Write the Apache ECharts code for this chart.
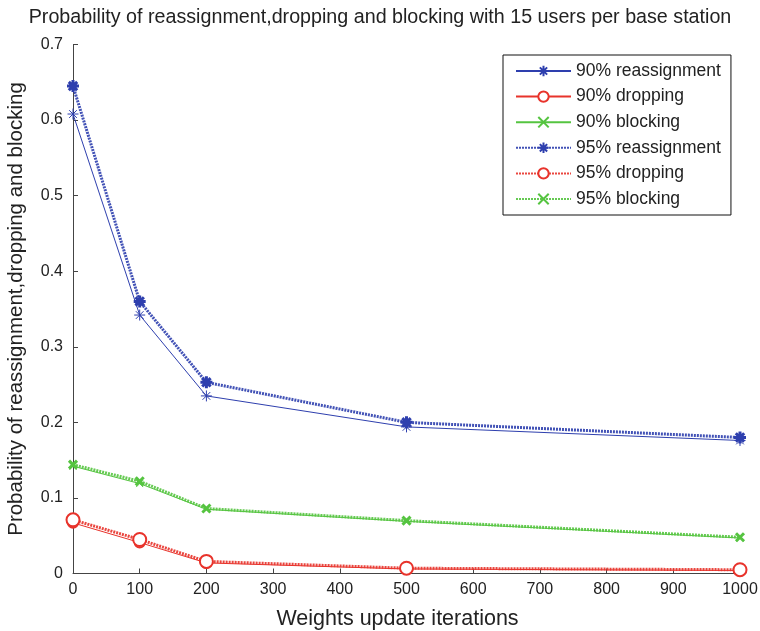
<!DOCTYPE html>
<html><head><meta charset="utf-8">
<script src="https://cdn.jsdelivr.net/npm/echarts@6/dist/echarts.min.js"></script>
<style>html,body{margin:0;padding:0;background:#fff}#c{width:760px;height:631px}</style>
</head><body><div id="c"></div>
<script>
const iterations = [0, 100, 200, 500, 1000];
const reassign90 = [0.608, 0.342, 0.235, 0.194, 0.176];
const dropping90 = [0.067, 0.041, 0.014, 0.006, 0.004];
const blocking90 = [0.142, 0.119, 0.085, 0.069, 0.047];
const reassign95 = [0.645, 0.360, 0.253, 0.200, 0.180];
const dropping95 = [0.071, 0.045, 0.016, 0.007, 0.005];
const blocking95 = [0.144, 0.122, 0.086, 0.070, 0.048];
const seriesNames = ['90% reassignment','90% dropping','90% blocking','95% reassignment','95% dropping','95% blocking'];

const BLUE = '#2e3fae', RED = '#e8332b', GREEN = '#55c440';
const STAR = 'path://M0,-10L0,10M-10,0L10,0M-7,-7L7,7M-7,7L7,-7';
const CROSS = 'path://M-7,-7L7,7M-7,7L7,-7';
const FONT = '"Liberation Sans", Arial, sans-serif';

function pairs(vals){ return iterations.map((x,i)=>[x, vals[i]]); }

function mk(name, vals, color, symbol, size, dotted, bw){
  return {
    name, type:'line', data:pairs(vals), symbol, symbolSize:size,
    lineStyle:{color, width: dotted?3:1, type: dotted?[2,1]:'solid', opacity: dotted?0.9:1},
    itemStyle:{color, borderColor: color, borderWidth: bw},
    emphasis:{disabled:true}, animation:false, z: dotted?3:2
  };
}

const chart = echarts.init(document.getElementById('c'), null, {renderer:'canvas'});
chart.setOption({
  animation:false,
  backgroundColor:'#fff',
  title:{text:'Probability of reassignment,dropping and blocking with 15 users per base station',
    left:'center', top:3, textStyle:{fontFamily:FONT, fontSize:19.7, fontWeight:'normal', color:'#222'}},
  grid:{left:73, right:20, top:44.5, bottom:57.5, containLabel:false, outerBoundsMode:'none'},
  legend:{orient:'vertical', left:503, top:55, padding:[7,10,7,12], itemGap:7.6,
    itemWidth:55, itemHeight:13, borderColor:'#111', borderWidth:1, backgroundColor:'#fff',
    textStyle:{fontFamily:FONT, fontSize:17.5, color:'#222'}, data:seriesNames},
  xAxis:{type:'value', min:0, max:1000, interval:100,
    name:'Weights update iterations', nameLocation:'middle', nameGap:35,
    nameTextStyle:{fontFamily:FONT, fontSize:21.5, color:'#222', padding:[0,18,0,0]},
    axisLine:{lineStyle:{color:'#444'}}, axisTick:{inside:true, length:5, lineStyle:{color:'#444'}},
    axisLabel:{fontFamily:FONT, fontSize:16, color:'#222', margin:8, formatter:v=>String(v)}, splitLine:{show:false}},
  yAxis:{type:'value', min:0, max:0.7, interval:0.1,
    name:'Probability of reassignment,dropping and blocking', nameLocation:'middle', nameGap:46,
    nameTextStyle:{fontFamily:FONT, fontSize:20.5, color:'#222'},
    axisLine:{show:true, lineStyle:{color:'#444'}}, axisTick:{show:true, inside:true, length:5, lineStyle:{color:'#444'}},
    axisLabel:{fontFamily:FONT, fontSize:16, color:'#222', margin:10, formatter:v=>String(+v.toFixed(1))}, splitLine:{show:false}},
  series:[
    mk('90% reassignment', reassign90, BLUE, STAR, 11, false, 1),
    mk('90% dropping', dropping90, RED, 'emptyCircle', 10, false, 1),
    mk('90% blocking', blocking90, GREEN, CROSS, 7, false, 1),
    mk('95% reassignment', reassign95, BLUE, STAR, 12, true, 3),
    mk('95% dropping', dropping95, RED, 'emptyCircle', 13, true, 3),
    mk('95% blocking', blocking95, GREEN, CROSS, 8, true, 3)
  ]
});
</script></body></html>
